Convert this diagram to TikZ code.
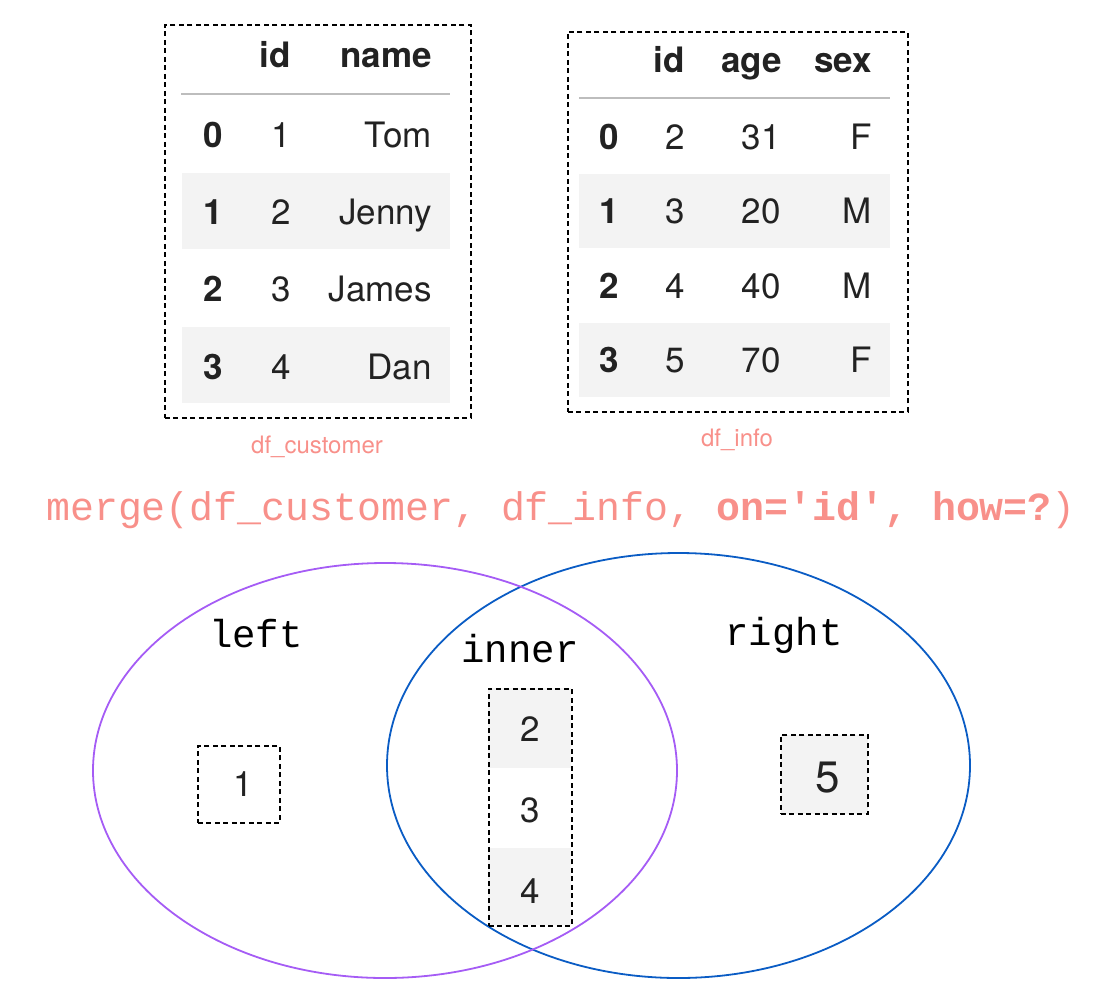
\documentclass[tikz,border=0pt]{standalone}
\usepackage{fontspec}
\setmainfont{TeX Gyre Heros}
\newfontfamily\monofam{Liberation Mono}
\definecolor{salmon}{HTML}{F8908A}
\definecolor{txt}{HTML}{222222}
\definecolor{rowgray}{HTML}{F3F3F3}
\definecolor{rulegray}{HTML}{BDBDBD}
\definecolor{vpurple}{HTML}{A55CF5}
\definecolor{vblue}{HTML}{0A5CC4}
\tikzset{
  dashbox/.style={draw=black, line width=1.6pt, dash pattern=on 5pt off 3.5pt},
  cell/.style={anchor=base east, inner sep=0pt, text=txt, font=\fontsize{35}{38}\selectfont},
  hcell/.style={cell, font=\fontsize{35}{38}\selectfont\bfseries},
  num/.style={anchor=base, inner sep=0pt, text=txt, font=\fontsize{35}{38}\selectfont},
  dflabel/.style={anchor=center, inner sep=0pt, text=salmon, font=\fontsize{24}{28}\selectfont},
  venn/.style={anchor=base, inner sep=0pt, text=black, font=\fontsize{39}{44}\selectfont\monofam},
}
\begin{document}
\begin{tikzpicture}[x=1pt,y=-1pt]
\useasboundingbox (0,0) rectangle (1106,994);
% ---------- df_customer ----------
\fill[rowgray] (182,173) rectangle (450,249);
\fill[rowgray] (182,327) rectangle (450,403);
\draw[rulegray, line width=2.5pt] (181,94) -- (450,94);
\node[dashbox, minimum width=306pt, minimum height=393pt, inner sep=0pt, anchor=north west] (tcust) at (164,24) {};
\node[hcell] (c-h-id) at (291,67) {id};
\node[hcell] (c-h-name) at (432,67) {name};
\node[hcell] (c-0) at (223,147.5) {0};
\node[cell] (c-0-id) at (291,147.5) {1};
\node[cell] (c-0-n) at (432,147.5) {Tom};
\node[hcell] (c-1) at (223,224.5) {1};
\node[cell] (c-1-id) at (291,224.5) {2};
\node[cell] (c-1-n) at (432,224.5) {Jenny};
\node[hcell] (c-2) at (223,301.5) {2};
\node[cell] (c-2-id) at (291,301.5) {3};
\node[cell] (c-2-n) at (432,301.5) {James};
\node[hcell] (c-3) at (223,379.5) {3};
\node[cell] (c-3-id) at (291,379.5) {4};
\node[cell] (c-3-n) at (432,379.5) {Dan};
\node[dflabel] (lcust) at (317,447) {df\_customer};
% ---------- df_info ----------
\fill[rowgray] (579,174) rectangle (890,248);
\fill[rowgray] (579,323) rectangle (890,397);
\draw[rulegray, line width=2.5pt] (579,98) -- (890,98);
\node[dashbox, minimum width=340pt, minimum height=380pt, inner sep=0pt, anchor=north west] (tinfo) at (567,31) {};
\node[hcell] (i-h-id) at (685,72) {id};
\node[hcell] (i-h-age) at (782,72) {age};
\node[hcell] (i-h-sex) at (872,72) {sex};
\node[hcell] (i-0) at (619,149.5) {0};
\node[cell] (i-0-id) at (685,149.5) {2};
\node[cell] (i-0-a) at (781,149.5) {31};
\node[cell] (i-0-s) at (872,149.5) {F};
\node[hcell] (i-1) at (619,223.5) {1};
\node[cell] (i-1-id) at (685,223.5) {3};
\node[cell] (i-1-a) at (781,223.5) {20};
\node[cell] (i-1-s) at (872,223.5) {M};
\node[hcell] (i-2) at (619,298.5) {2};
\node[cell] (i-2-id) at (685,298.5) {4};
\node[cell] (i-2-a) at (781,298.5) {40};
\node[cell] (i-2-s) at (872,298.5) {M};
\node[hcell] (i-3) at (619,372.5) {3};
\node[cell] (i-3-id) at (685,372.5) {5};
\node[cell] (i-3-a) at (781,372.5) {70};
\node[cell] (i-3-s) at (872,372.5) {F};
\node[dflabel] (linfo) at (737,440) {df\_info};
% ---------- merge call ----------
\node[anchor=base west, inner sep=0pt, text=salmon, font=\fontsize{39.9}{44}\selectfont\monofam] (merge) at (46,520)
  {merge(df\_customer, df\_info, \textbf{on='id', how=?})};
% ---------- Venn ----------
\draw[vblue, line width=1.8pt] (678.5,765.5) ellipse [x radius=291.5, y radius=212.5];
\draw[vpurple, line width=1.8pt] (385,770.5) ellipse [x radius=292, y radius=207.5];
\node[venn] (lleft) at (256,647) {left};
\node[venn] (linner) at (520,662) {inner};
\node[venn] (lright) at (784,645) {right};
% left box
\node[dashbox, minimum width=82pt, minimum height=77pt, inner sep=0pt, anchor=north west] (bleft) at (197,745) {};
\node[num] (n1) at (243,796) {1};
% inner box
\fill[rowgray] (488,688) rectangle (571,768);
\fill[rowgray] (488,848) rectangle (571,925);
\node[dashbox, minimum width=83pt, minimum height=237pt, inner sep=0pt, anchor=north west] (binner) at (488,688) {};
\node[num] (n2) at (530,741) {2};
\node[num] (n3) at (530,822) {3};
\node[num] (n4) at (530,903) {4};
% right box
\node[dashbox, fill=rowgray, minimum width=87pt, minimum height=79pt, inner sep=0pt, anchor=north west] (bright) at (780,734) {};
\node[num, font=\fontsize{44}{48}\selectfont] (n5) at (828,792) {5};
\end{tikzpicture}
\end{document}
